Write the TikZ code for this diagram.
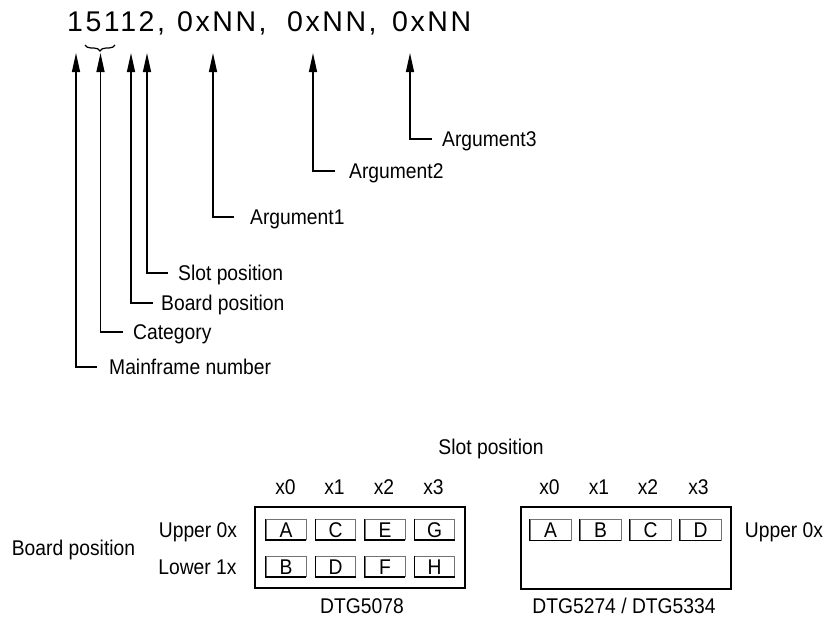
\documentclass[tikz,border=0pt]{standalone}
\usepackage{fontspec}
\setmainfont{Liberation Sans}
\usetikzlibrary{arrows.meta,decorations.pathreplacing}
\begin{document}
\begin{tikzpicture}[x=1pt,y=-1pt,
  lab/.style={font=\fontsize{21.3}{25}\selectfont\addfontfeature{FakeStretch=0.905}, inner sep=0pt, text height=15.2pt, text depth=0pt},
  big/.style={font=\fontsize{28.5}{34}\selectfont\addfontfeature{LetterSpace=9}, inner sep=0pt, anchor=base west},
  conn/.style={line width=1.2pt, -{Triangle[length=19pt,width=8pt]}},
  frame/.style={draw, line width=1.3pt, inner sep=0pt, minimum width=210pt},
  slotbox/.style={lab, draw=black!55, line width=0.6pt, minimum height=20.5pt},
  shade/.style={line width=1.3pt}
]
\useasboundingbox (0,0) rectangle (830,625);

% command string
\node[big] (n1) at (67,31.7) {15112,};
\node[big] (n2) at (177,31.7) {0xNN,};
\node[big] (n3) at (287,31.7) {0xNN,};
\node[big] (n4) at (392,31.7) {0xNN};
\draw[decorate, decoration={brace, amplitude=6pt, mirror}, line width=1.2pt] (85,45) -- (115,45);

% arrow tips
\coordinate (t1) at (76,53);
\coordinate (t2) at (100.5,53);
\coordinate (t3) at (131,53);
\coordinate (t4) at (147,53);
\coordinate (t5) at (213,53);
\coordinate (t6) at (313,53);
\coordinate (t7) at (410,53);

% labels
\node[lab, anchor=west] (arg3) at (442,139) {Argument3};
\node[lab, anchor=west] (arg2) at (349,171) {Argument2};
\node[lab, anchor=west] (arg1) at (250,217) {Argument1};
\node[lab, anchor=west] (slp) at (178,273) {Slot position};
\node[lab, anchor=west] (bdp) at (161,303) {Board position};
\node[lab, anchor=west] (cat) at (133,332) {Category};
\node[lab, anchor=west] (mfn) at (109,367) {Mainframe number};

% connectors
\draw[conn] ([xshift=-10pt]arg3.west) -| (t7);
\draw[conn] ([xshift=-14pt]arg2.west) -| (t6);
\draw[conn] ([xshift=-16pt]arg1.west) -| (t5);
\draw[conn] ([xshift=-10pt]slp.west) -| (t4);
\draw[conn] ([xshift=-8pt]bdp.west) -| (t3);
\draw[conn] ([xshift=-10pt]cat.west) -| (t2);
\draw[conn] ([xshift=-12pt]mfn.west) -| (t1);

% lower part
\node[lab] (slotpos) at (491,446.5) {Slot position};

\node[lab] (lx0) at (285.5,487) {x0};
\node[lab] (lx1) at (334.5,487) {x1};
\node[lab] (lx2) at (384,487) {x2};
\node[lab] (lx3) at (433.5,487) {x3};
\node[lab] (rx0) at (549.5,487) {x0};
\node[lab] (rx1) at (599,487) {x1};
\node[lab] (rx2) at (648,487) {x2};
\node[lab] (rx3) at (698.5,487) {x3};

\node[lab] (boardpos) at (73.5,548) {Board position};
\node[lab] (up1) at (198,529.5) {Upper 0x};
\node[lab] (lo1) at (197.5,566.5) {Lower 1x};
\node[lab] (up2) at (784,529.5) {Upper 0x};

\node[frame, minimum height=81pt] (f1) at (360,547.5) {};
\node[frame, minimum height=82pt] (f2) at (626,548) {};

\foreach \nm/\xx/\yy in {A/286/529.5, C/335.5/529.5, E/385/529.5, G/434.5/529.5,
                         B/286/566.5, D/335.5/566.5, F/385/566.5, H/434.5/566.5} {
  \node[slotbox, minimum width=40pt] (l\nm) at (\xx,\yy) {\nm};
  \draw[shade] (l\nm.north west) -- (l\nm.south west) -- (l\nm.south east);
}
\foreach \nm/\xx in {A/550.5, B/600.5, C/650.5, D/700.5} {
  \node[slotbox, minimum width=41pt] (r\nm) at (\xx,530) {\nm};
  \draw[shade] (r\nm.north west) -- (r\nm.south west) -- (r\nm.south east);
}

\node[lab] (dtg1) at (362,605.5) {DTG5078};
\node[lab] (dtg2) at (624,605.5) {DTG5274 / DTG5334};
\end{tikzpicture}
\end{document}
